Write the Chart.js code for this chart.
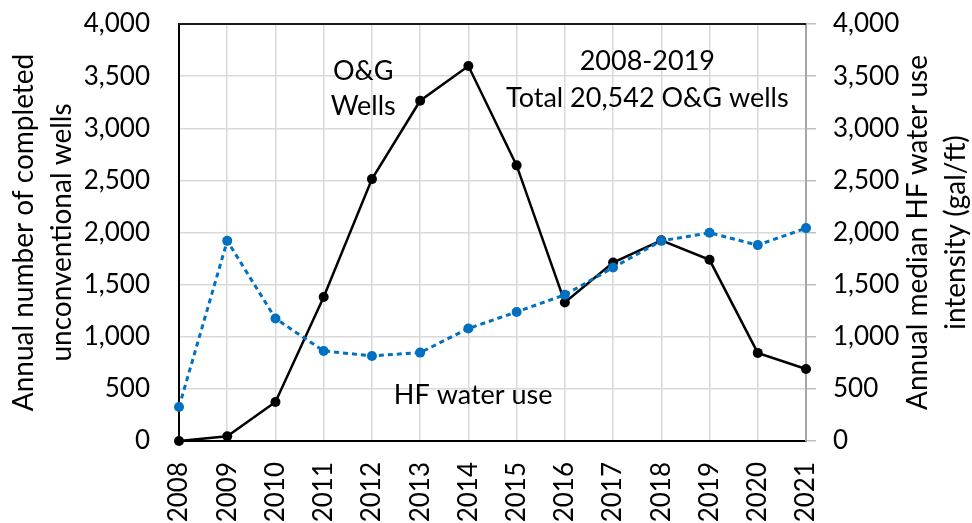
<!DOCTYPE html>
<html>
<head>
<meta charset="utf-8">
<script src="https://cdn.jsdelivr.net/npm/chart.js@4/dist/chart.umd.min.js"></script>
<style>
  html, body { margin: 0; padding: 0; background: #fff; }
  canvas { display: block; }
</style>
</head>
<body>
<canvas id="grafico" width="972" height="523"></canvas>
<script>
const anos = ['2008', '2009', '2010', '2011', '2012', '2013', '2014', '2015', '2016', '2017', '2018', '2019', '2020', '2021']
const pocos = [0, 45, 374, 1382, 2512, 3264, 3597, 2644, 1329, 1712, 1925, 1738, 845, 691]
const aguaHF = [326, 1920, 1175, 864, 816, 848, 1079, 1238, 1402, 1664, 1920, 1997, 1879, 2042]
const eixoMin = 0
const eixoMax = 4000
const eixoPasso = 500

const tituloEsq = ['Annual number of completed', 'unconventional wells']
const tituloDir = ['Annual median HF water use', 'intensity (gal/ft)']

// notas no gráfico, presas às coordenadas dos dados
const notas = [
  { texto: 'O&G', x: 3.82, y: 3462 },
  { texto: 'Wells', x: 3.82, y: 3126 },
  { texto: '2008-2019', x: 9.71, y: 3558 },
  { texto: 'Total 20,542 O&G wells', x: 9.71, y: 3203 },
  { texto: 'HF water use', x: 6.10, y: 352 }
]

const FONTE = 'Lato'
const formatar = (v) => String(v).replace(/\B(?=(\d{3})+(?!\d))/g, ',')

// o padding das escalas verticais empurra a área do gráfico, então zera
function ajustarVertical(largura) {
  return (escala) => {
    escala.width = largura
    escala.paddingTop = 0
    escala.paddingBottom = 0
  }
}

const pluginExtras = {
  id: 'extras',
  afterDraw(chart) {
    const { ctx, chartArea, scales } = chart
    ctx.save()
    // borda superior
    ctx.strokeStyle = '#1a1a1a'
    ctx.lineWidth = 2
    ctx.beginPath()
    ctx.moveTo(chartArea.left, chartArea.top)
    ctx.lineTo(chartArea.right, chartArea.top)
    ctx.stroke()

    ctx.fillStyle = '#000'
    ctx.font = `27px ${FONTE}`
    ctx.textAlign = 'center'
    ctx.textBaseline = 'alphabetic'
    notas.forEach((n) => {
      ctx.fillText(n.texto, scales.x.getPixelForValue(n.x), scales.y.getPixelForValue(n.y))
    })

    // título do eixo direito (lido de baixo para cima)
    ctx.font = `28px ${FONTE}`
    ctx.textBaseline = 'middle'
    const centroY = (chartArea.top + chartArea.bottom) / 2
    const xs = [chart.width - 54, chart.width - 16]
    tituloDir.forEach((linha, i) => {
      ctx.save()
      ctx.translate(xs[i], centroY)
      ctx.rotate(-Math.PI / 2)
      ctx.fillText(linha, 0, 0)
      ctx.restore()
    })
    ctx.restore()
  }
}

new Chart(document.getElementById('grafico'), {
  type: 'line',
  data: {
    labels: anos,
    datasets: [
      {
        label: 'O&G Wells',
        data: pocos,
        yAxisID: 'y',
        borderColor: '#000',
        backgroundColor: '#000',
        borderWidth: 2.5,
        pointRadius: 5,
        pointBorderWidth: 0,
        tension: 0,
        clip: false,
        order: 2
      },
      {
        label: 'HF water use',
        data: aguaHF,
        yAxisID: 'y2',
        borderColor: '#0070C0',
        backgroundColor: '#0070C0',
        borderWidth: 3,
        borderDash: [5, 4],
        pointRadius: 5,
        pointBorderWidth: 0,
        tension: 0,
        clip: false,
        order: 1
      }
    ]
  },
  options: {
    responsive: false,
    animation: false,
    devicePixelRatio: 1,
    layout: { padding: { top: 24, left: 0, right: 0, bottom: 0 } },
    plugins: {
      legend: { display: false },
      tooltip: { enabled: false }
    },
    scales: {
      x: {
        grid: { color: '#d9d9d9', lineWidth: 1.5, drawTicks: false },
        border: { color: '#000', width: 2 },
        ticks: {
          color: '#000',
          font: { family: FONTE, size: 26 },
          minRotation: 90,
          maxRotation: 90,
          padding: 21,
          autoSkip: false
        },
        afterFit: (escala) => { escala.height = 82 }
      },
      y: {
        position: 'left',
        min: eixoMin,
        max: eixoMax,
        grid: { color: '#d9d9d9', lineWidth: 1.5, drawTicks: false },
        border: { color: '#000', width: 2 },
        ticks: {
          stepSize: eixoPasso,
          color: '#000',
          font: { family: FONTE, size: 26 },
          padding: 29,
          callback: (v) => formatar(v)
        },
        title: {
          display: true,
          text: tituloEsq,
          color: '#000',
          font: { family: FONTE, size: 28, lineHeight: 1.36 },
          padding: { top: 5, bottom: 0 }
        },
        afterFit: ajustarVertical(179)
      },
      y2: {
        position: 'right',
        min: eixoMin,
        max: eixoMax,
        grid: { drawOnChartArea: false, color: '#bfbfbf', lineWidth: 1.5, tickLength: 10 },
        border: { color: '#a6a6a6', width: 2 },
        ticks: {
          stepSize: eixoPasso,
          color: '#000',
          font: { family: FONTE, size: 26 },
          padding: 17,
          callback: (v) => formatar(v)
        },
        afterFit: ajustarVertical(166)
      }
    }
  },
  plugins: [pluginExtras]
})
</script>
</body>
</html>
